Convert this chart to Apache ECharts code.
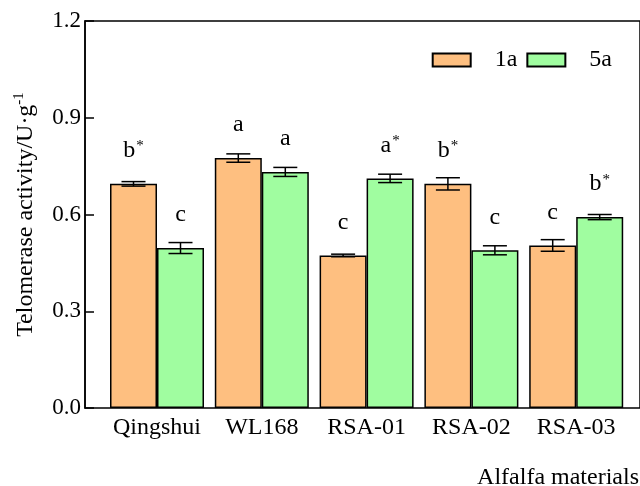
<!DOCTYPE html>
<html>
<head>
<meta charset="utf-8">
<script src="https://cdn.jsdelivr.net/npm/echarts@6/dist/echarts.min.js"></script>
<style>
  html, body { margin: 0; padding: 0; background: #fff; }
  #main { width: 640px; height: 486px; }
</style>
</head>
<body>
<div id="main"></div>
<script>
// 数据
var categories = ['Qingshui', 'WL168', 'RSA-01', 'RSA-02', 'RSA-03'];
var values1a = [0.695, 0.775, 0.473, 0.695, 0.504];
var values5a = [0.496, 0.732, 0.712, 0.489, 0.592];
var errors1a = [0.007, 0.013, 0.004, 0.019, 0.018];
var errors5a = [0.017, 0.014, 0.013, 0.014, 0.008];
var letters1a = ['b*', 'a', 'c', 'b*', 'c'];
var letters5a = ['c', 'a', 'a*', 'c', 'b*'];
var yTicks = [0, 0.3, 0.6, 0.9, 1.2];

var FONT = "'Liberation Serif', 'Times New Roman', serif";
var FS = 24;
var BAR_W = 47;

var myChart = echarts.init(document.getElementById('main'));

// 显著性字母, 星号做上标
function letterLabel(letters) {
  return function (p) {
    var s = letters[p.dataIndex];
    if (s.indexOf('*') > -1) {
      return '{l|' + s.replace('*', '') + '}{s|*}';
    }
    return '{l|' + s + '}';
  };
}

var labelRich = {
  l: { fontSize: FS, fontFamily: FONT, color: '#000', lineHeight: 24, verticalAlign: 'bottom' },
  s: { fontSize: 15, fontFamily: FONT, color: '#000', lineHeight: 24, verticalAlign: 'top', padding: [0, 0, 9, 1] }
};

function errorSeries(vals, errs, offset) {
  return {
    type: 'custom',
    xAxisIndex: 1,
    yAxisIndex: 1,
    z: 5,
    silent: true,
    data: vals.map(function (v, i) { return [i, v, errs[i]]; }),
    encode: { x: 0, y: 1 },
    renderItem: function (params, api) {
      var i = api.value(0), v = api.value(1), e = api.value(2);
      var hi = api.coord([i, v + e]);
      var lo = api.coord([i, v - e]);
      var x = hi[0] + offset;
      var half = 12;
      var style = { stroke: '#000', lineWidth: 1.5 };
      return {
        type: 'group',
        children: [
          { type: 'line', shape: { x1: x, y1: hi[1], x2: x, y2: lo[1] }, style: style },
          { type: 'line', shape: { x1: x - half, y1: hi[1], x2: x + half, y2: hi[1] }, style: style },
          { type: 'line', shape: { x1: x - half, y1: lo[1], x2: x + half, y2: lo[1] }, style: style }
        ]
      };
    }
  };
}

var option = {
  backgroundColor: '#fff',
  animation: false,
  title: {
    text: 'Alfalfa materials',
    right: 1,
    top: 466,
    padding: 0,
    textStyle: { fontFamily: FONT, fontSize: FS, fontWeight: 'normal', color: '#000' }
  },
  legend: {
    data: ['1a', '5a'],
    right: 28,
    top: 48,
    padding: 0,
    icon: 'rect',
    itemWidth: 38,
    itemHeight: 13,
    itemGap: 9,
    textStyle: { fontFamily: FONT, fontSize: FS, color: '#000', padding: [0, 0, 0, 19] }
  },
  grid: [
    // 外框
    { left: 85, right: -3, top: 21, bottom: 78, show: true, borderColor: '#000', borderWidth: 1.5, backgroundColor: 'transparent' },
    // 柱子
    { left: 104.6, right: 11.4, top: 21, bottom: 78 }
  ],
  xAxis: [
    { type: 'value', gridIndex: 0, min: 0, max: 1, show: false },
    {
      type: 'category',
      gridIndex: 1,
      data: categories,
      axisLine: { show: false },
      axisTick: { show: false },
      axisLabel: { interval: 0, fontFamily: FONT, fontSize: FS, color: '#000', margin: 8 }
    }
  ],
  yAxis: [
    {
      type: 'value',
      gridIndex: 0,
      min: yTicks[0],
      max: yTicks[yTicks.length - 1],
      interval: 0.3,
      splitLine: { show: false },
      axisLine: { show: true, lineStyle: { color: '#000', width: 1.5 } },
      axisTick: { show: true, inside: true, length: 9, lineStyle: { color: '#000', width: 1.5 } },
      axisLabel: {
        fontFamily: FONT, fontSize: 23, color: '#000', margin: 4,
        formatter: function (v) { return v.toFixed(1); }
      },
      name: '{n|Telomerase activity/U·g}{s|-1}',
      nameLocation: 'middle',
      nameGap: 47,
      nameRotate: 90,
      nameTextStyle: {
        rich: {
          n: { fontFamily: FONT, fontSize: FS, color: '#000', lineHeight: 26, verticalAlign: 'bottom' },
          s: { fontFamily: FONT, fontSize: 15, color: '#000', lineHeight: 26, verticalAlign: 'top', padding: [0, 0, 10, 0] }
        }
      }
    },
    { type: 'value', gridIndex: 1, min: 0, max: 1.2, interval: 0.3, show: false }
  ],
  series: [
    {
      name: '1a',
      type: 'bar',
      xAxisIndex: 1,
      yAxisIndex: 1,
      barWidth: BAR_W,
      barGap: '0%',
      data: values1a,
      itemStyle: { color: '#FEBF80', borderColor: '#000', borderWidth: 1.5 },
      label: { show: true, position: 'top', distance: 21, formatter: letterLabel(letters1a), rich: labelRich }
    },
    {
      name: '5a',
      type: 'bar',
      xAxisIndex: 1,
      yAxisIndex: 1,
      barWidth: BAR_W,
      barGap: '0%',
      data: values5a,
      itemStyle: { color: '#A0FDA0', borderColor: '#000', borderWidth: 1.5 },
      label: { show: true, position: 'top', distance: 21, formatter: letterLabel(letters5a), rich: labelRich }
    },
    errorSeries(values1a, errors1a, -BAR_W / 2),
    errorSeries(values5a, errors5a, BAR_W / 2)
  ]
};

option && myChart.setOption(option);
</script>
</body>
</html>
